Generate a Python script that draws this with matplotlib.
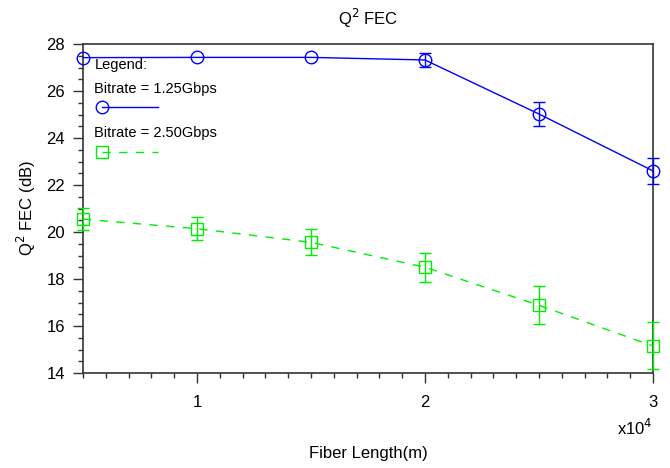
import matplotlib.pyplot as plt
from matplotlib.ticker import MultipleLocator, FuncFormatter

plt.rcParams['font.family'] = ['Liberation Sans', 'DejaVu Sans']

fiber_len = [5000, 10000, 15000, 20000, 25000, 30000]
q2_125 = [27.42, 27.43, 27.43, 27.32, 25.02, 22.6]
err_125 = [0.0, 0.0, 0.0, 0.3, 0.5, 0.57]
q2_250 = [20.55, 20.14, 19.56, 18.5, 16.88, 15.15]
err_250 = [0.47, 0.5, 0.55, 0.62, 0.81, 1.0]

fig = plt.figure(figsize=(6.7, 4.68), dpi=100)
ax = fig.add_axes([83 / 670, 1 - 373 / 468, 570 / 670, 329 / 468])

blue = '#0000ff'
green = '#00ee00'

# lines + markers
ax.plot(fiber_len, q2_125, color=blue, lw=1.0, marker='o', ms=9,
        mfc='none', mec=blue, mew=1.0, clip_on=False, zorder=3)
ax.plot(fiber_len, q2_250, color=green, lw=1.0, ls=(0, (6, 6)), marker='s',
        ms=8, mfc='none', mec=green, mew=1.0, clip_on=False, zorder=3)

# error bars only where there is a visible error
idx = [i for i, e in enumerate(err_125) if e > 0]
ax.errorbar([fiber_len[i] for i in idx], [q2_125[i] for i in idx],
            yerr=[err_125[i] for i in idx], fmt='none', ecolor=blue,
            elinewidth=1.0, capsize=4, clip_on=False, zorder=3)
ax.errorbar(fiber_len, q2_250, yerr=err_250, fmt='none', ecolor=green,
            elinewidth=1.0, capsize=4, clip_on=False, zorder=3)

ax.set_xlim(5000, 30000)
ax.set_ylim(14, 28)
ax.xaxis.set_major_locator(MultipleLocator(10000))
ax.xaxis.set_minor_locator(MultipleLocator(1000))
ax.yaxis.set_major_locator(MultipleLocator(2))
ax.yaxis.set_minor_locator(MultipleLocator(0.5))
ax.xaxis.set_major_formatter(FuncFormatter(lambda v, p: '%d' % round(v / 10000)))
ax.tick_params(which='major', length=7, width=1, color='#333333',
               labelsize=12, direction='out')
ax.tick_params(which='minor', length=3.5, width=1, color='#333333',
               direction='out')
ax.tick_params(axis='x', pad=9)
ax.tick_params(axis='y', pad=6)
for s in ax.spines.values():
    s.set_color('#333333')
    s.set_linewidth(1.2)

ax.set_title('Q$^2$ FEC', fontsize=12, pad=14)
ax.set_ylabel('Q$^2$ FEC (dB)', fontsize=12, labelpad=6)
ax.set_xlabel('Fiber Length(m)', fontsize=12, labelpad=26)
ax.text(1.0, -0.167, 'x10$^4$', transform=ax.transAxes, ha='right',
        va='center', fontsize=12)

# legend drawn by hand, label above the line sample
ax.text(0.02, 0.935, 'Legend:', transform=ax.transAxes, fontsize=10.5, va='center')
ax.text(0.02, 0.862, 'Bitrate = 1.25Gbps', transform=ax.transAxes, fontsize=10.5, va='center')
ax.plot([0.033, 0.132], [0.81, 0.81], transform=ax.transAxes, color=blue, lw=1.0)
ax.plot([0.033], [0.81], transform=ax.transAxes, color=blue, marker='o',
        ms=9, mfc='none', mew=1.0)
ax.text(0.02, 0.728, 'Bitrate = 2.50Gbps', transform=ax.transAxes, fontsize=10.5, va='center')
ax.plot([0.033, 0.132], [0.672, 0.672], transform=ax.transAxes, color=green,
        lw=1.0, ls=(0, (6, 6)))
ax.plot([0.033], [0.672], transform=ax.transAxes, color=green, marker='s',
        ms=8, mfc='none', mew=1.0)

fig.savefig('out.png', dpi=100)
